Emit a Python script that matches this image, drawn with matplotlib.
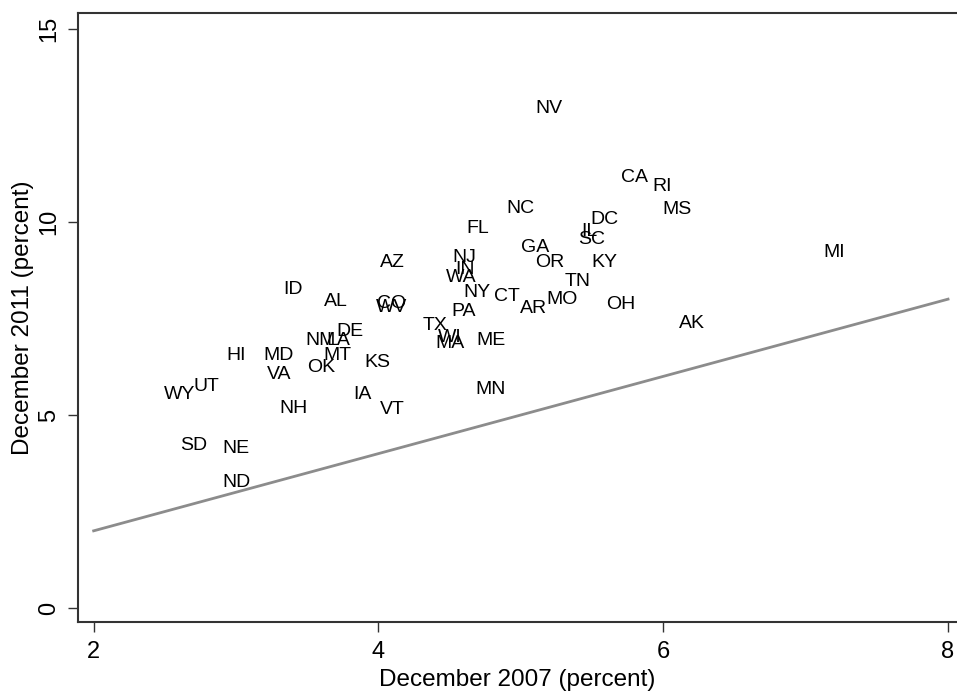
import matplotlib
matplotlib.use("Agg")
import matplotlib.pyplot as plt
import numpy as np

plt.rcParams['font.family'] = ['Liberation Sans', 'DejaVu Sans']

# state labels with Dec 2007 and Dec 2011 unemployment rates (percent)
states = ['NV', 'CA', 'RI', 'MS', 'NC', 'DC', 'IL', 'SC', 'FL', 'GA',
          'OR', 'KY', 'TN', 'NJ', 'IN', 'WA', 'NY', 'CT', 'AR', 'MO',
          'OH', 'AK', 'MI', 'AZ', 'ID', 'AL', 'CO', 'WV', 'PA', 'TX',
          'WI', 'MA', 'ME', 'MN', 'NM', 'LA', 'DE', 'MT', 'OK', 'KS',
          'MD', 'VA', 'HI', 'WY', 'UT', 'NH', 'IA', 'VT', 'SD', 'NE', 'ND']
dec2007 = [5.20, 5.80, 5.99, 6.10, 5.00, 5.59, 5.48, 5.50, 4.70, 5.10,
           5.20, 5.59, 5.40, 4.60, 4.61, 4.58, 4.69, 4.90, 5.09, 5.29,
           5.70, 6.20, 7.20, 4.10, 3.40, 3.70, 4.09, 4.09, 4.60, 4.40,
           4.50, 4.50, 4.79, 4.79, 3.59, 3.72, 3.80, 3.71, 3.60, 3.99,
           3.30, 3.30, 3.00, 2.60, 2.79, 3.40, 3.89, 4.10, 2.70, 3.00, 3.00]
dec2011 = [12.95, 11.14, 10.93, 10.31, 10.34, 10.05, 9.75, 9.55, 9.82, 9.35,
           8.94, 8.94, 8.45, 9.07, 8.76, 8.55, 8.16, 8.06, 7.75, 7.98,
           7.85, 7.36, 9.22, 8.94, 8.26, 7.95, 7.90, 7.78, 7.67, 7.33,
           7.00, 6.84, 6.94, 5.65, 6.94, 6.94, 7.15, 6.55, 6.24, 6.35,
           6.55, 6.04, 6.55, 5.52, 5.75, 5.16, 5.52, 5.13, 4.22, 4.12, 3.24]

line_x = [2, 8]
line_y = [2, 8]

fig = plt.figure(figsize=(9.57, 6.92), dpi=100)
ax = fig.add_axes([0.0815, 0.1012, 0.9185, 0.8800])

ax.plot(line_x, line_y, color='#8c8c8c', lw=2)
for s, x, y in zip(states, dec2007, dec2011):
    ax.text(x, y, s, ha='center', va='center', fontsize=14, color='black')

ax.set_xlim(1.89, 8.063)
ax.set_ylim(-0.36, 15.41)
ax.set_xticks([2, 4, 6, 8])
ax.set_yticks([0, 5, 10, 15])
ax.set_yticklabels(['0', '5', '10', '15'], rotation=90, va='center')
ax.tick_params(labelsize=17, length=7, width=1, color='#333333')
ax.tick_params(axis='x', pad=7)
ax.tick_params(axis='y', pad=6)

ax.spines['right'].set_visible(False)
for sp in ['top', 'left', 'bottom']:
    ax.spines[sp].set_color('#333333')
    ax.spines[sp].set_linewidth(1.5)

ax.set_xlabel('December 2007 (percent)', fontsize=17.5, labelpad=4)
ax.set_ylabel('December 2011 (percent)', fontsize=17.5, labelpad=3)

fig.savefig('out.png', dpi=100)
